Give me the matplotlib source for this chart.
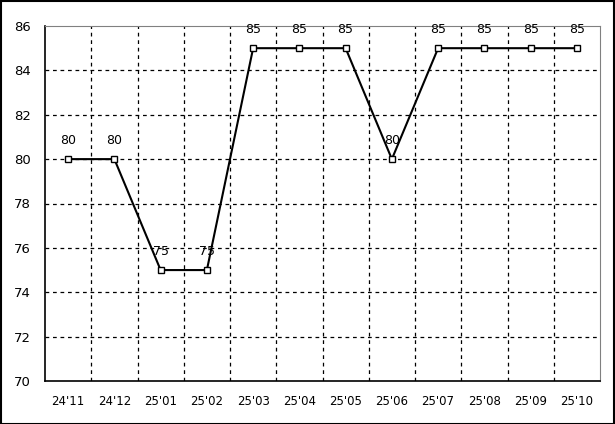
import numpy as np
from matplotlib import pyplot as plt
from matplotlib.patches import Rectangle

#%% Dados
meses = ["24'11", "24'12", "25'01", "25'02", "25'03", "25'04",
         "25'05", "25'06", "25'07", "25'08", "25'09", "25'10"]
valores = [80, 80, 75, 75, 85, 85, 85, 80, 85, 85, 85, 85]
yticks = [70, 72, 74, 76, 78, 80, 82, 84, 86]

#%% Figura
fig = plt.figure(figsize=(6.15, 4.24), dpi=100)
ax = fig.add_axes([45/615, 43/424, 555/615, 355/424])

x = np.arange(len(meses))
ax.plot(x, valores, color='black', lw=1.5, marker='s', ms=5,
        mfc='white', mec='black', mew=1, zorder=3)
for xi, v in zip(x, valores):
    ax.annotate(str(v), (xi, v), xytext=(0, 9), textcoords='offset points',
                ha='center', va='bottom', fontsize=9)

ax.set_xlim(-0.5, len(meses) - 0.5)
ax.set_ylim(70, 86)
ax.set_yticks(yticks)
ax.set_xticks(x)
ax.set_xticklabels(meses, fontsize=8.5)
ax.tick_params(axis='y', labelsize=9.5, length=0, pad=10)
ax.tick_params(axis='x', length=0, pad=10)

# grade
for g in yticks[1:-1]:
    ax.axhline(g, color='black', lw=0.9, ls=(0, (3, 3)), zorder=1)
for g in x[:-1] + 0.5:
    ax.axvline(g, color='black', lw=0.9, ls=(0, (3, 3)), zorder=1)

ax.spines['top'].set_color('gray')
ax.spines['right'].set_color('gray')
for s in ['left', 'bottom']:
    ax.spines[s].set_linewidth(1.2)

# borda externa
fig.patches.append(Rectangle((0.001, 0.001), 0.997, 0.996, transform=fig.transFigure,
                             fill=False, ec='black', lw=1.5))

plt.savefig('out.png', dpi=100)
